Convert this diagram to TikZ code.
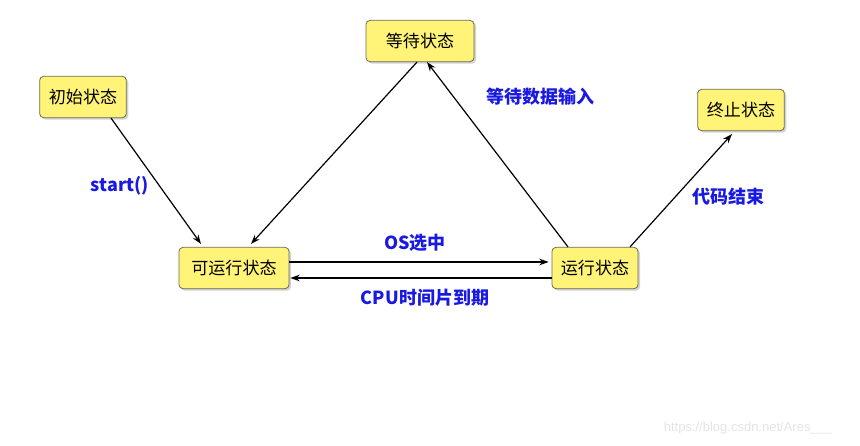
\documentclass[tikz,border=0pt]{standalone}
\usepackage{fontspec}
\newfontfamily\cjk{Noto Sans CJK SC}
\newfontfamily\wm{Liberation Sans}
\usetikzlibrary{arrows.meta,shadows,calc}
\definecolor{boxfill}{RGB}{255,244,120}
\definecolor{boxborder}{RGB}{110,105,80}
\definecolor{lblue}{RGB}{25,25,225}
\definecolor{wmgray}{RGB}{228,228,228}
\begin{document}
\begin{tikzpicture}[x=0.75pt,y=-0.75pt,
  state/.style={draw=boxborder, fill=boxfill, rounded corners=3pt, line width=0.6pt,
    minimum height=31pt, inner sep=0pt, font=\cjk\fontsize{12.8}{14}\selectfont,
    drop shadow={shadow xshift=1.5pt, shadow yshift=-1.5pt, opacity=0.35}},
  lbl/.style={text=lblue, font=\cjk\bfseries\fontsize{13.5}{15}\selectfont, inner sep=0pt},
  arr/.style={draw=black, line width=0.9pt, -{Stealth[length=7pt,width=5pt]}}]
\useasboundingbox (0,0) rectangle (860,446);
\node[state, minimum width=65pt] (ini) at (83,97) {初始状态};
\node[state, minimum width=82.5pt] (rbl) at (234,268) {可运行状态};
\node[state, minimum width=81pt] (wait) at (420,41) {等待状态};
\node[state, minimum width=64.5pt] (run) at (595,268) {运行状态};
\node[state, minimum width=65pt] (fin) at (741,110) {终止状态};
\draw[arr] ($(ini.south)+(28,0)$) -- ($(rbl.north)+(-33,-3)$);
\draw[arr] ($(wait.south)+(-3,0)$) -- ($(rbl.north)+(17,-3)$);
\draw[arr] ($(run.north)+(-27,0)$) -- ($(wait.south)+(7,0)$);
\draw[arr] ($(run.north)+(35,0)$) -- ($(fin.south)+(-9,3)$);
\draw[arr] ($(rbl.east)+(0,-6)$) -- ($(run.west)+(-3,-6)$);
\draw[arr] ($(run.west)+(0,10)$) -- ($(rbl.east)+(1,10)$);
\node[lbl] (l1) at (120,186) {start()};
\node[lbl] (l2) at (540,97) {等待数据输入};
\node[lbl] (l3) at (728,197) {代码结束};
\node[lbl] (l4) at (415,243) {OS选中};
\node[lbl] (l5) at (425,298) {CPU时间片到期};
\node[text=wmgray, font=\wm\fontsize{9.75}{11}\selectfont, inner sep=0pt] (wmk) at (748,428) {https://blog.csdn.net/Ares\_\_\_};
\end{tikzpicture}
\end{document}
